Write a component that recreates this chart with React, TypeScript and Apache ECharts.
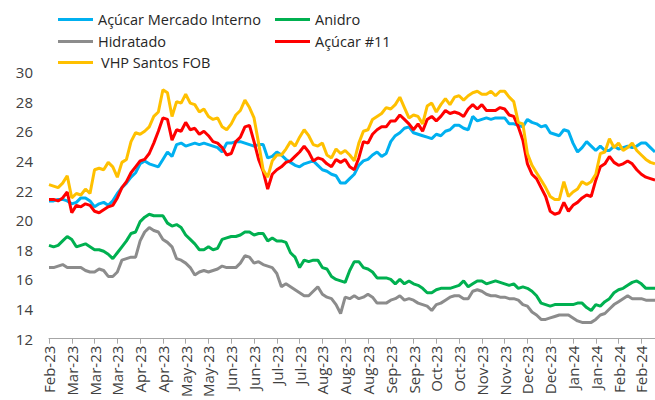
import React, { useEffect, useRef } from "react";
import * as echarts from "echarts";

const tickLabels = [
  "Feb-23", "Mar-23", "Mar-23", "Mar-23", "Apr-23", "Apr-23", "May-23", "May-23", "Jun-23",
  "Jun-23", "Jul-23", "Jul-23", "Aug-23", "Aug-23", "Aug-23", "Sep-23", "Sep-23", "Oct-23",
  "Oct-23", "Nov-23", "Nov-23", "Dec-23", "Dec-23", "Jan-24", "Jan-24", "Feb-24", "Feb-24",
];
const pointsPerTick = 5;

const acucarMI = [
  21.3, 21.3, 21.4, 21.4, 21.3, 21.1, 21.2, 21.5, 21.5, 21.3,
  20.9, 21.1, 21.2, 21.0, 21.3, 21.8, 22.2, 22.5, 22.9, 23.2,
  23.8, 24.0, 23.8, 23.7, 23.6, 24.1, 24.6, 24.3, 25.1, 25.2,
  25.0, 25.1, 25.2, 25.1, 25.2, 25.1, 25.0, 24.9, 24.6, 25.2,
  25.2, 25.3, 25.3, 25.2, 25.1, 25.0, 25.1, 25.1, 24.2, 24.3,
  24.6, 24.4, 24.1, 23.9, 23.7, 23.6, 23.8, 23.9, 24.0, 23.7,
  23.4, 23.3, 23.1, 23.0, 22.5, 22.5, 22.8, 23.1, 23.7, 24.0,
  24.1, 24.4, 24.6, 24.3, 24.5, 25.3, 25.7, 25.9, 26.2, 26.3,
  25.9, 25.8, 25.7, 25.6, 25.5, 25.8, 25.7, 26.0, 26.1, 26.4,
  26.4, 26.2, 26.1, 27.0, 26.7, 26.8, 26.9, 26.8, 26.9, 26.9,
  26.9, 26.5, 26.5, 26.4, 26.3, 26.8, 26.6, 26.5, 26.3, 26.4,
  25.9, 25.8, 25.7, 26.1, 26.0, 25.2, 24.6, 24.9, 25.3, 25.0,
  24.7, 25.0, 24.7, 24.7, 25.0, 24.8, 24.9, 25.0, 24.9, 25.0,
  25.2, 25.2, 24.9, 24.6,
];

const anidro = [
  18.3, 18.2, 18.3, 18.6, 18.9, 18.7, 18.2, 18.3, 18.4, 18.2,
  18.0, 18.0, 17.9, 17.7, 17.4, 17.8, 18.2, 18.6, 19.1, 19.2,
  19.9, 20.2, 20.4, 20.3, 20.3, 20.3, 19.8, 19.6, 19.7, 19.5,
  19.0, 18.7, 18.4, 18.0, 18.0, 18.2, 18.0, 18.1, 18.7, 18.8,
  18.9, 18.9, 19.0, 19.2, 19.2, 19.0, 19.1, 19.1, 18.6, 18.8,
  18.6, 18.6, 18.5, 17.8, 17.5, 16.8, 17.3, 17.2, 17.3, 17.3,
  16.8, 16.7, 16.2, 16.0, 15.9, 15.8, 16.6, 17.2, 17.2, 16.8,
  16.7, 16.5, 16.1, 16.1, 16.1, 16.0, 15.7, 16.0, 15.7, 15.9,
  15.7, 15.6, 15.4, 15.1, 15.1, 15.3, 15.4, 15.4, 15.4, 15.5,
  15.6, 15.9, 15.5, 15.7, 15.9, 15.9, 15.7, 15.8, 15.9, 15.8,
  15.7, 15.6, 15.7, 15.4, 15.5, 15.4, 15.2, 14.9, 14.4, 14.3,
  14.2, 14.3, 14.3, 14.3, 14.3, 14.3, 14.4, 14.4, 14.1, 13.9,
  14.3, 14.2, 14.5, 14.7, 15.1, 15.3, 15.4, 15.6, 15.8, 15.9,
  15.7, 15.4, 15.4, 15.4,
];

const hidratado = [
  16.8, 16.8, 16.9, 17.0, 16.8, 16.8, 16.8, 16.8, 16.6, 16.5,
  16.5, 16.7, 16.6, 16.2, 16.2, 16.5, 17.3, 17.4, 17.5, 17.5,
  18.6, 19.2, 19.5, 19.3, 19.2, 18.7, 18.5, 18.2, 17.4, 17.3,
  17.1, 16.8, 16.3, 16.5, 16.6, 16.5, 16.6, 16.7, 16.9, 16.8,
  16.8, 16.8, 17.1, 17.6, 17.5, 17.1, 17.2, 17.0, 16.9, 16.8,
  16.4, 15.5, 15.7, 15.5, 15.3, 15.1, 14.9, 14.9, 15.2, 15.5,
  15.0, 14.8, 14.7, 14.3, 13.7, 14.8, 14.7, 14.9, 14.7, 14.8,
  15.0, 14.8, 14.4, 14.4, 14.4, 14.6, 14.7, 14.9, 14.6, 14.7,
  14.6, 14.4, 14.3, 14.2, 13.9, 14.3, 14.4, 14.6, 14.8, 14.9,
  14.9, 14.7, 14.7, 15.2, 15.3, 15.2, 15.0, 14.9, 14.9, 14.8,
  14.8, 14.7, 14.7, 14.6, 14.3, 14.2, 13.8, 13.6, 13.3, 13.3,
  13.4, 13.5, 13.6, 13.6, 13.6, 13.4, 13.2, 13.1, 13.1, 13.1,
  13.3, 13.6, 13.7, 14.0, 14.3, 14.5, 14.7, 14.9, 14.7, 14.7,
  14.7, 14.6, 14.6, 14.6,
];

const acucar11 = [
  21.4, 21.4, 21.3, 21.5, 21.9, 20.5, 21.0, 20.9, 21.1, 21.0,
  20.6, 20.5, 20.7, 20.9, 21.0, 21.5, 22.2, 22.6, 23.2, 23.6,
  24.0, 24.1, 24.5, 25.2, 26.0, 26.9, 26.8, 25.4, 26.1, 26.0,
  26.6, 26.1, 26.2, 25.8, 26.0, 25.7, 25.3, 25.2, 24.9, 24.4,
  24.5, 25.3, 25.6, 26.3, 26.4, 25.3, 24.1, 23.3, 22.1, 23.1,
  23.4, 23.6, 23.9, 24.0, 24.3, 24.6, 25.0, 24.6, 24.0, 24.2,
  24.1, 23.8, 23.6, 24.1, 23.9, 24.1, 23.6, 23.4, 24.2, 25.3,
  25.2, 25.8, 26.1, 26.3, 26.3, 26.7, 26.7, 27.1, 26.8, 26.5,
  26.1, 26.5, 26.0, 26.8, 27.0, 26.7, 27.0, 27.4, 27.2, 27.3,
  27.2, 27.0, 27.5, 27.8, 27.5, 27.8, 27.4, 27.4, 27.4, 27.6,
  27.5, 27.1, 27.0, 26.3, 25.4, 23.8, 23.1, 22.8, 22.2, 21.6,
  20.6, 20.4, 20.5, 21.2, 20.6, 21.0, 21.2, 21.5, 21.7, 21.6,
  22.7, 23.6, 23.8, 24.3, 23.9, 23.7, 23.8, 24.0, 23.8, 23.4,
  23.1, 22.9, 22.8, 22.7,
];

const vhpSantos = [
  22.4, 22.3, 22.2, 22.5, 23.0, 21.5, 21.8, 21.7, 22.1, 21.8,
  23.4, 23.5, 23.4, 23.9, 23.6, 22.9, 23.9, 24.1, 25.3, 25.9,
  25.8, 26.0, 26.3, 27.0, 27.3, 28.8, 28.6, 27.0, 28.0, 27.9,
  28.5, 27.9, 27.8, 27.3, 27.5, 27.0, 26.8, 26.9, 26.3, 26.1,
  26.5, 27.1, 27.4, 28.1, 27.6, 26.9, 25.2, 23.4, 22.9, 24.0,
  24.4, 24.4, 24.8, 25.3, 25.0, 25.6, 26.1, 25.7, 25.1, 25.0,
  25.2, 24.4, 24.2, 24.8, 24.5, 24.7, 24.4, 24.0, 25.2, 26.0,
  26.1, 26.8, 27.0, 27.2, 27.6, 27.5, 27.8, 28.3, 27.6, 26.9,
  27.1, 27.0, 26.5, 27.7, 27.9, 27.3, 27.8, 28.2, 27.8, 28.3,
  28.4, 28.1, 28.4, 28.6, 28.7, 28.5, 28.5, 28.7, 28.4, 28.7,
  28.7, 28.3, 28.0, 26.6, 26.5, 24.5, 23.7, 23.2, 22.7, 22.2,
  21.6, 21.4, 21.4, 22.6, 21.6, 21.9, 22.1, 22.6, 22.4, 22.6,
  23.1, 24.5, 24.6, 25.5, 24.9, 25.2, 24.7, 24.9, 25.2, 24.7,
  24.4, 24.1, 23.9, 23.8,
];

const seriesDefs = [
  { name: "Açúcar Mercado Interno", data: acucarMI, color: "#00B0F0" },
  { name: "Anidro", data: anidro, color: "#00B050" },
  { name: "Hidratado", data: hidratado, color: "#8C8C8C" },
  { name: "Açúcar #11", data: acucar11, color: "#FF0000" },
  { name: "VHP Santos FOB", data: vhpSantos, color: "#FFC000" },
];

const legendPos = [
  { left: 58, top: 12 },
  { left: 275, top: 12 },
  { left: 58, top: 34 },
  { left: 275, top: 34 },
  { left: 58, top: 55 },
];

export default function App() {
  const ref = useRef<HTMLDivElement>(null);
  useEffect(() => {
    if (!ref.current) return;
    const chart = echarts.init(ref.current, undefined, { renderer: "svg" });
    const n = acucarMI.length;
    const categories = Array.from({ length: n }, (_, i) => String(i));
    const font = "'Open Sans', sans-serif";
    chart.setOption({
      animation: false,
      backgroundColor: "#ffffff",
      legend: seriesDefs.map((s, k) => ({
        data: [s.name],
        left: legendPos[k].left,
        top: legendPos[k].top,
        icon: "rect",
        itemWidth: 35,
        itemHeight: 3,
        padding: 0,
        selectedMode: false,
        textStyle: { fontFamily: font, fontSize: 14.5, color: "#262626", padding: [0, 0, 0, k === 4 ? 3 : 0] },
      })),
      grid: { left: 49, right: 0, top: 72, bottom: 59, containLabel: false },
      xAxis: {
        type: "category",
        data: categories,
        boundaryGap: false,
        axisLine: { lineStyle: { color: "#A6A6A6", width: 1 } },
        axisTick: {
          show: true,
          length: 5,
          interval: (idx: number) => idx % pointsPerTick === 0,
          lineStyle: { color: "#A6A6A6" },
        },
        axisLabel: {
          interval: (idx: number) => idx % pointsPerTick === 0,
          rotate: 90,
          margin: 7,
          fontFamily: font,
          fontSize: 15,
          color: "#404040",
          formatter: (_v: string, idx: number) =>
            idx % pointsPerTick === 0 ? tickLabels[idx / pointsPerTick] ?? "" : "",
        },
        splitLine: { show: false },
      },
      yAxis: {
        type: "value",
        min: 12,
        max: 30,
        interval: 2,
        axisLine: { show: false },
        axisTick: { show: false },
        splitLine: { show: false },
        axisLabel: { fontFamily: font, fontSize: 15, color: "#404040", margin: 16 },
      },
      series: seriesDefs.map((s) => ({
        name: s.name,
        type: "line",
        data: s.data,
        showSymbol: false,
        symbol: "none",
        color: s.color,
        lineStyle: { color: s.color, width: 3 },
        clip: true,
      })),
    });
    return () => chart.dispose();
  }, []);
  return (
    <div
      ref={ref}
      style={{ position: "absolute", left: 0, top: 0, width: 655, height: 400 }}
    />
  );
}
